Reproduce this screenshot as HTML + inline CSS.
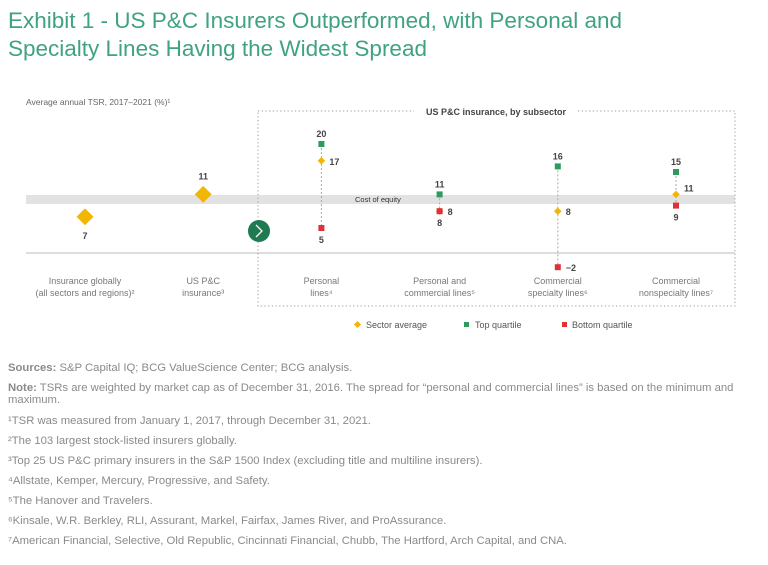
<!DOCTYPE html>
<html><head><meta charset="utf-8"><style>
body{margin:0;background:#fff;}
svg{display:block;font-family:"Liberation Sans",sans-serif;}
</style></head><body>
<svg id="chart" width="768" height="565" viewBox="0 0 768 565">
<g fill="#3fa382" font-size="22.5">
<text x="8" y="28">Exhibit 1 - US P&amp;C Insurers Outperformed, with Personal and</text>
<text x="8" y="56">Specialty Lines Having the Widest Spread</text>
</g>
<text x="26" y="105" font-size="8.5" fill="#666">Average annual TSR, 2017–2021 (%)¹</text>
<rect x="26" y="195" width="709" height="9" fill="#e2e2e2"/>
<text x="355" y="202" font-size="7.5" fill="#333">Cost of equity</text>
<line x1="26" y1="253" x2="735" y2="253" stroke="#bbb" stroke-width="1"/>
<g stroke="#999" stroke-dasharray="1.2,2.5" fill="none">
<path d="M258 111 H414 M578 111 H735 V306 H258 V111"/>
</g>
<text x="496" y="115" font-size="9" font-weight="bold" fill="#444" text-anchor="middle">US P&amp;C insurance, by subsector</text>
<g>
<circle cx="259" cy="231" r="11" fill="#1f7a52"/>
<path d="M256 225 L262 231 L256 237" stroke="#fff" stroke-width="1.3" fill="none"/>
</g>
<g id="marks"></g>
<g font-size="9" fill="#555">
<rect x="355" y="322" width="5" height="5" fill="#f2b705" transform="rotate(45 357.5 324.5)"/>
<text x="366" y="328">Sector average</text>
<rect x="464" y="322" width="5" height="5" fill="#2c9c5c"/>
<text x="475" y="328">Top quartile</text>
<rect x="562" y="322" width="5" height="5" fill="#e0303a"/>
<text x="572" y="328">Bottom quartile</text>
</g>
<g font-size="11.3" fill="#8a8a8a">
<text x="8" y="371"><tspan font-weight="bold">Sources:</tspan> S&amp;P Capital IQ; BCG ValueScience Center; BCG analysis.</text>
<text x="8" y="391"><tspan font-weight="bold">Note:</tspan> TSRs are weighted by market cap as of December 31, 2016. The spread for “personal and commercial lines” is based on the minimum and</text>
<text x="8" y="403">maximum.</text>
<text x="8" y="424">¹TSR was measured from January 1, 2017, through December 31, 2021.</text>
<text x="8" y="444">²The 103 largest stock-listed insurers globally.</text>
<text x="8" y="464">³Top 25 US P&amp;C primary insurers in the S&amp;P 1500 Index (excluding title and multiline insurers).</text>
<text x="8" y="484">⁴Allstate, Kemper, Mercury, Progressive, and Safety.</text>
<text x="8" y="504">⁵The Hanover and Travelers.</text>
<text x="8" y="524">⁶Kinsale, W.R. Berkley, RLI, Assurant, Markel, Fairfax, James River, and ProAssurance.</text>
<text x="8" y="544">⁷American Financial, Selective, Old Republic, Cincinnati Financial, Chubb, The Hartford, Arch Capital, and CNA.</text>
</g>
</svg>
<script>
const categories = ["Insurance globally|(all sectors and regions)²","US P&C|insurance³","Personal|lines⁴","Personal and|commercial lines⁵","Commercial|specialty lines⁶","Commercial|nonspecialty lines⁷"];
const sectorAvg = [7, 11, 17, 8, 8, 11];
const topQuartile = [null, null, 20, 11, 16, 15];
const bottomQuartile = [null, null, 5, 8, -2, 9];
const NS="http://www.w3.org/2000/svg";
const g=document.getElementById('marks');
function xPos(i){return 85+i*118.2;}
function yPos(v){return 256-v*5.6;}
function mk(t,a){const e=document.createElementNS(NS,t);for(const k in a)e.setAttribute(k,a[k]);g.appendChild(e);return e;}
function txt(x,y,s,a){const e=mk('text',Object.assign({x:x,y:y},a));e.textContent=s;return e;}
categories.forEach((c,i)=>{
  const x=xPos(i);
  const parts=c.split('|');
  parts.forEach((p,j)=>{const t=txt(x,284+j*12,p,{'font-size':9,fill:'#777','text-anchor':'middle'});
    
    });
  const a=sectorAvg[i], tq=topQuartile[i], bq=bottomQuartile[i];
  if(tq===null){
    const d=mk('rect',{x:x-6,y:yPos(a)-6,width:12,height:12,fill:'#f2b705',transform:`rotate(45 ${x} ${yPos(a)})`});
    
    
    const above=i===1;
    const l=txt(x,above?yPos(a)-15:yPos(a)+22,String(a),{'font-size':9,'font-weight':'bold',fill:'#444','text-anchor':'middle'});
    
    
    return;
  }
  const ln=mk('line',{x1:x,x2:x,y1:yPos(tq),y2:yPos(bq),stroke:'#aaa','stroke-dasharray':'2,2'});
  
  
  const ay=yPos(a);
  const d=mk('rect',{x:x-2.7,y:ay-2.7,width:5.4,height:5.4,fill:'#f2b705',transform:`rotate(45 ${x} ${ay})`});
  
  
  const ty=yPos(tq);
  const t=mk('rect',{x:x-3,y:ty-3,width:6,height:6,fill:'#2c9c5c'});
  
  
  const tl=txt(x,ty-7,String(tq),{'font-size':9,'font-weight':'bold',fill:'#444','text-anchor':'middle'});
  
  
  const by=yPos(bq);
  const b=mk('rect',{x:x-3,y:by-3,width:6,height:6,fill:'#e0303a'});
  
  
  const bl=(bq<0)?txt(x+8,by+4,'−'+Math.abs(bq),{'font-size':9,'font-weight':'bold',fill:'#444'}):txt(x,by+15,String(bq),{'font-size':9,'font-weight':'bold',fill:'#444','text-anchor':'middle'});
  
  
  const al=txt(x+8,ay+(i===5?-3:4),String(a),{'font-size':9,'font-weight':'bold',fill:'#444'});
  
  
});
</script>
</body></html>
